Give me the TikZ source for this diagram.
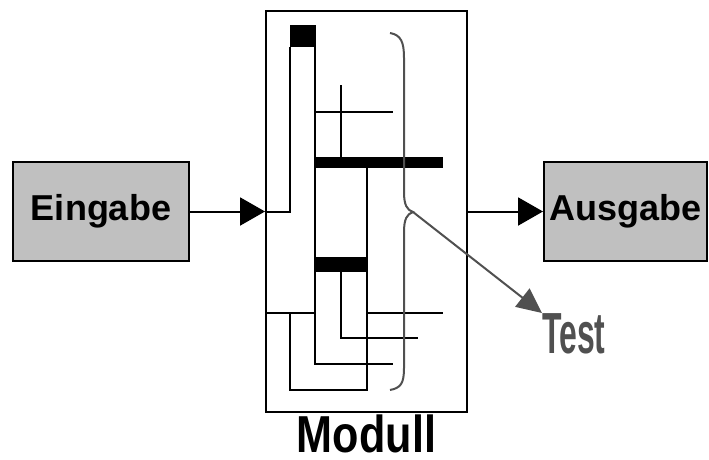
\documentclass[tikz,border=0pt]{standalone}
\usepackage{fontspec}
\setmainfont{Liberation Sans}
\usepackage{tikz}
\usetikzlibrary{arrows.meta, positioning}
\definecolor{boxfill}{HTML}{C0C0C0}
\definecolor{testgray}{HTML}{505050}
\tikzset{
  block/.style={
    rectangle, draw=black, line width=2pt, fill=boxfill,
    minimum width=163pt, minimum height=99pt, inner sep=0pt,
    font=\bfseries\fontsize{36}{40}\selectfont
  },
  modbox/.style={
    rectangle, draw=black, line width=2pt,
    minimum width=201pt, minimum height=401pt, inner sep=0pt
  },
  flow/.style={
    -{Triangle[length=25pt, width=28pt]}, line width=2pt
  },
  wire/.style={line width=2.2pt, black},
  bar/.style={fill=black, draw=none},
  bracepath/.style={line width=2pt, testgray},
  tagarrow/.style={
    -{Triangle[length=25pt, width=23pt]}, line width=2pt, testgray
  }
}

\begin{document}
\begin{tikzpicture}[x=1pt, y=-1pt]
  \useasboundingbox (0,0) rectangle (709,460);

  % Module and its blocks
  \node[modbox] (mod) at (366.5,211.5) {};
  \node[block, minimum width=176pt, left=75pt of mod] (ein) {Eingabe};
  \node[block, right=75pt of mod] (aus) {Ausgabe};
  \node[inner sep=0pt, anchor=north, font=\bfseries\fontsize{52}{56}\selectfont]
    (label) at ([yshift=-2pt]mod.south) {\scalebox{0.83}[1]{Modull}};

  % Connections
  \draw[flow] (ein.east) -- (mod.west |- ein.east);
  \draw[flow] (mod.east |- aus.west) -- (aus.west);

  % Inner circuit
  \fill[bar] (290,25) rectangle (316,47);
  \fill[bar] (315,157) rectangle (443,168);
  \fill[bar] (315,257) rectangle (367,272);
  \draw[wire] (mod.west |- 0,212) -- (290,212) -- (290,47);
  \draw[wire] (315,47) -- (315,364) -- (393,364);
  \draw[wire] (341,85) -- (341,157);
  \draw[wire] (315,112) -- (393,112);
  \draw[wire] (367,168) -- (367,390) -- (290,390) -- (290,313);
  \draw[wire] (mod.west |- 0,313) -- (315,313);
  \draw[wire] (367,313) -- (443,313);
  \draw[wire] (341,272) -- (341,338) -- (418,338);

  % Brace and test tap
  \coordinate (tip) at (413,212);
  \draw[bracepath] (390,33) .. controls (401,35) and (404,42) .. (404,58)
    -- (404,192) .. controls (404,205) and (407,210) .. (tip)
    .. controls (407,214) and (404,219) .. (404,232)
    -- (404,368) .. controls (404,383) and (401,388) .. (390,390);
  \node[inner sep=0pt, anchor=north west, text=testgray,
    font=\bfseries\fontsize{58}{62}\selectfont] (test) at (542,313)
    {\scalebox{0.55}[1]{Test}};
  \draw[tagarrow] (tip) -- (test.north west);

\end{tikzpicture}
\end{document}
